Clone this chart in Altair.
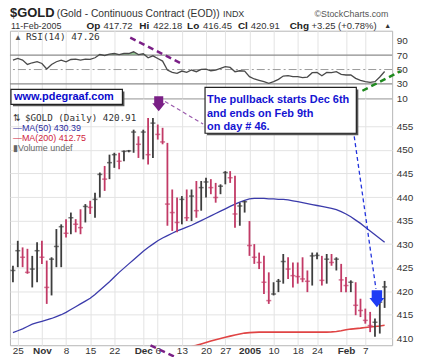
import altair as alt
import pandas as pd

# ---------------- data ----------------
HIGH = [425.4, 430.7, 429.3, 429.0, 427.5, 430.4, 430.7, 426.5, 427.2, 433.2,
        434.2, 435.3, 436.7, 435.3, 437.4, 438.5, 439.2, 440.9, 445.2, 446.6,
        449.0, 449.4, 449.4, 449.9, 450.0, 454.3, 452.9, 454.3, 456.8, 456.8,
        455.4, 454.7, 451.5, 441.6, 439.9, 440.2, 441.6, 441.6, 443.4, 443.4,
        444.1, 443.8, 443.0, 442.7, 445.5, 445.5, 444.5, 438.8, 439.2, 434.9,
        430.0, 428.2, 427.5, 424.0, 421.9, 422.6, 427.9, 427.2, 426.1, 426.1,
        427.2, 424.4, 428.2, 428.2, 427.5, 427.9, 427.9, 427.2, 425.8, 423.0,
        422.3, 421.9, 418.4, 416.3, 415.6, 414.2, 419.1, 422.18]
LOW = [421.9, 425.1, 425.1, 423.7, 420.8, 421.9, 425.8, 417.3, 419.1, 425.1,
       425.1, 431.4, 432.1, 432.5, 432.1, 434.6, 436.4, 435.6, 439.9, 441.3,
       443.8, 446.2, 445.9, 447.6, 449.5, 449.4, 448.3, 448.0, 446.9, 448.3,
       452.2, 451.2, 433.9, 432.8, 432.5, 434.2, 434.9, 434.9, 435.6, 437.1,
       439.9, 440.6, 438.8, 440.6, 442.7, 443.0, 433.5, 433.9, 436.7, 427.5,
       425.8, 424.7, 419.4, 417.3, 419.1, 419.8, 421.6, 422.6, 420.8, 421.6,
       421.9, 419.8, 421.2, 426.8, 421.2, 421.6, 425.4, 424.4, 419.8, 419.8,
       419.8, 414.9, 414.5, 413.1, 411.3, 410.3, 411.0, 416.45]
CLOSE = [424.4, 428.6, 427.2, 424.0, 424.7, 428.6, 427.2, 420.8, 426.8, 429.5,
         433.7, 432.3, 435.6, 434.2, 433.5, 438.0, 437.8, 439.5, 444.8, 443.8,
         447.3, 449.0, 447.6, 449.7, 449.8, 453.8, 451.2, 453.8, 449.0, 455.7,
         453.3, 451.7, 438.5, 436.7, 434.6, 439.5, 435.6, 440.2, 437.1, 442.0,
         443.2, 442.0, 439.9, 442.3, 445.2, 444.1, 436.4, 438.1, 439.0, 429.7,
         427.2, 426.1, 421.9, 418.0, 419.4, 422.1, 426.3, 424.7, 423.3, 423.1,
         422.6, 422.1, 427.5, 427.6, 422.3, 426.8, 426.1, 426.8, 422.4, 421.2,
         421.9, 417.0, 415.9, 413.8, 412.7, 413.4, 417.66, 420.91]
MA50 = [411.2, 411.6, 412.0, 412.5, 413.0, 413.3, 413.6, 413.9, 414.2, 414.6,
        415.0, 415.5, 416.1, 416.7, 417.3, 417.9, 418.5, 419.3, 420.2, 421.1,
        422.0, 423.0, 424.0, 424.9, 425.8, 426.7, 427.6, 428.5, 429.3, 430.0,
        430.7, 431.3, 431.8, 432.3, 432.8, 433.2, 433.6, 434.0, 434.5, 435.0,
        435.5, 436.0, 436.5, 437.0, 437.5, 438.0, 438.5, 438.9, 439.3, 439.6,
        439.7, 439.7, 439.7, 439.6, 439.6, 439.5, 439.5, 439.4, 439.2, 439.0,
        438.8, 438.6, 438.4, 438.2, 438.0, 437.8, 437.6, 437.3, 436.9, 436.4,
        435.8, 435.1, 434.4, 433.6, 432.8, 432.0, 431.2, 430.39]
MA200_START = 35
MA200 = [407.8, 408.0, 408.25, 408.5, 408.8, 409.1, 409.4, 409.7, 409.95, 410.2,
         410.45, 410.7, 410.9, 411.1, 411.2, 411.25, 411.3, 411.3, 411.3, 411.3,
         411.3, 411.3, 411.3, 411.3, 411.3, 411.3, 411.3, 411.3, 411.3, 411.3,
         411.3, 411.35, 411.45, 411.6, 411.8, 411.95, 412.05, 412.15, 412.3, 412.4,
         412.5, 412.6, 412.75]
RSI = [63.1, 65.3, 63.1, 57.0, 59.4, 60.8, 58.4, 50.7, 57.0, 60.8,
       63.1, 60.8, 63.9, 64.5, 63.1, 64.5, 64.0, 66.3, 70.8, 69.5,
       71.4, 72.2, 70.8, 72.2, 72.2, 74.6, 70.8, 71.8, 66.3, 69.0,
       65.3, 61.7, 49.3, 46.0, 44.6, 47.9, 46.0, 49.3, 47.0, 50.2,
       50.6, 48.3, 49.3, 51.5, 53.9, 52.9, 47.0, 48.3, 47.9, 40.1,
       36.9, 35.0, 33.2, 30.8, 33.2, 36.4, 41.0, 41.5, 40.1, 40.1,
       38.7, 39.6, 45.6, 46.0, 41.5, 46.0, 45.6, 47.0, 43.3, 42.4,
       42.4, 37.8, 35.0, 33.2, 32.3, 33.2, 39.6, 47.26]

TICK_IDX = [1, 6, 11, 16, 21, 27, 30, 35, 40, 44, 49, 54, 59, 63, 69, 73]
TICK_LABELS = ["25", "Nov", "8", "15", "22", "Dec", "6", "13", "20", "27",
               "2005", "10", "18", "24", "Feb", "7"]
MONTH_IDX = [6, 27, 49, 69]
PRICE_TICKS = [410, 415, 420, 425, 430, 435, 440, 445, 450, 455]
RSI_TICKS = [10, 30, 50, 70, 90]
RSI_LEVELS = [70, 30]

# annotation anchors in data coordinates (bar index, value)
PURPLE_RSI_X = [24.3, 35.3]
PURPLE_RSI_Y = [94.1, 56.9]
GREEN_RSI_X = [72.4, 80.3]
GREEN_RSI_Y = [20.6, 47.6]
PURPLE_THIN_X = [31.5, 39.4]
PURPLE_THIN_Y = [460.3, 455.5]
PURPLE_LOW_X = [28.5, 33.6]
PURPLE_LOW_Y = [408.5, 406.0]
BLUE_X = [70.7, 75.2]
BLUE_Y = [452.9, 420.5]
PURPLE_ARROW = (30.2, 459.8)
BLUE_ARROW = (75.4, 418.4)

X_DOMAIN = [-0.62, 78.56]
PRICE_DOMAIN = [408.52, 460.95]
RSI_DOMAIN = [10, 103.8]
W, H_RSI, H_MAIN = 384, 68, 248
LEFT, TOP, RIGHT, BOTTOM = 9, 29, 32, 12

SANS = "Liberation Sans"
MONO = "DejaVu Sans Mono"

# ---------------- tables ----------------
n = len(CLOSE)
idx = list(range(n))
direction = ["up" if k == 0 or CLOSE[k] >= CLOSE[k - 1] else "down" for k in idx]
bars = pd.DataFrame({"i": idx, "high": HIGH, "low": LOW, "close": CLOSE, "dir": direction})
ma50 = pd.DataFrame({"i": idx, "v": MA50})
ma200 = pd.DataFrame({"i": list(range(MA200_START, MA200_START + len(MA200))), "v": MA200})
rsi = pd.DataFrame({"i": idx, "rsi": RSI})

label_expr = "''"
for v, l in reversed(list(zip(TICK_IDX, TICK_LABELS))):
    label_expr = f"datum.value == {v} ? '{l}' : ({label_expr})"
month_test = "indexof([" + ",".join(str(m) for m in MONTH_IDX) + "], datum.value) >= 0"

xscale = alt.Scale(domain=X_DOMAIN, nice=False, zero=False)
pscale = alt.Scale(domain=PRICE_DOMAIN, nice=False, zero=False)
rscale = alt.Scale(domain=RSI_DOMAIN, nice=False, zero=False)

x_main_axis = alt.Axis(values=TICK_IDX, labelExpr=label_expr, grid=True, title=None,
                       labelFontWeight={"condition": {"test": month_test, "value": "bold"},
                                        "value": "normal"},
                       labelPadding=0, labelFontSize=10, labelFlush=False)
x_rsi_axis = alt.Axis(values=TICK_IDX, labels=False, grid=True, title=None)
y_main_axis = alt.Axis(orient="right", values=PRICE_TICKS, grid=True, title=None,
                       labelPadding=4)
y_rsi_axis = alt.Axis(orient="right", values=RSI_TICKS, grid=False, title=None,
                      labelPadding=4)


def xm(field="i"):
    return alt.X(f"{field}:Q", scale=xscale, axis=x_main_axis)


def ym(field):
    return alt.Y(f"{field}:Q", scale=pscale, axis=y_main_axis)


def xr(field="i"):
    return alt.X(f"{field}:Q", scale=xscale, axis=x_rsi_axis)


def yr(field):
    return alt.Y(f"{field}:Q", scale=rscale, axis=y_rsi_axis)


def txt(text, x, y, size=10, color="#333", weight="normal", font=SANS, align="left"):
    return alt.Chart(pd.DataFrame({"t": [text]})).mark_text(
        align=align, baseline="alphabetic", fontSize=size, color=color,
        fontWeight=weight, font=font
    ).encode(x=alt.value(x), y=alt.value(y), text="t:N")


def frame(y1, y2):
    # invisible rectangle fixing the page margins
    return alt.Chart(pd.DataFrame({"a": [0]})).mark_rect(opacity=0).encode(
        x=alt.value(-LEFT), x2=alt.value(W + RIGHT), y=alt.value(y1), y2=alt.value(y2))


def box(x1, x2, y1, y2):
    d = pd.DataFrame({"a": [0]})
    shadow = alt.Chart(d).mark_rect(color="#555").encode(
        x=alt.value(x1 + 2), x2=alt.value(x2 + 2), y=alt.value(y1 + 2), y2=alt.value(y2 + 2))
    face = alt.Chart(d).mark_rect(fill="white", stroke="#222", strokeWidth=1.2).encode(
        x=alt.value(x1), x2=alt.value(x2), y=alt.value(y1), y2=alt.value(y2))
    return shadow + face


def dline(xs, ys, color, width, dash, xenc, yenc):
    d = pd.DataFrame({"x": xs, "y": ys, "o": list(range(len(xs)))})
    return alt.Chart(d).mark_line(color=color, strokeWidth=width, strokeDash=dash).encode(
        x=xenc("x"), y=yenc("y"), order="o:Q")


ARROW = "M-0.7,-1.15L0.7,-1.15L0.7,-0.1L1,-0.1L0,1.15L-1,-0.1L-0.7,-0.1Z"


def arrow(pos, color, size):
    d = pd.DataFrame({"x": [pos[0]], "y": [pos[1]]})
    return alt.Chart(d).mark_point(shape=ARROW, filled=True, size=size, color=color,
                                   opacity=1).encode(x=xm("x"), y=ym("y"))


# ---------------- RSI panel ----------------
rsi_base = alt.Chart(rsi)
rsi_fill = rsi_base.transform_calculate(top="max(datum.rsi, 70)", base="70").mark_area(
    color="#7fbf7f", opacity=0.85).encode(x=xr(), y=yr("top"), y2="base:Q")
rsi_line = rsi_base.mark_line(color="#4a4a4a", strokeWidth=1.3).encode(x=xr(), y=yr("rsi"))
levels = alt.Chart(pd.DataFrame({"v": RSI_LEVELS})).mark_rule(
    color="#8c8c8c", strokeWidth=1.3).encode(y=yr("v"))
mid = alt.Chart(pd.DataFrame({"v": [50]})).mark_rule(
    color="#9a9a9a", strokeWidth=1, strokeDash=[8, 3, 2, 3]).encode(y=yr("v"))
p_rsi = dline(PURPLE_RSI_X, PURPLE_RSI_Y, "#7a1f86", 2.5, [6, 4], xr, yr)
g_rsi = dline(GREEN_RSI_X, GREEN_RSI_Y, "#1f8a1f", 2.5, [6, 4], xr, yr)

header = [
    txt("$GOLD", 0, -13.5, 13, "#222", "bold"),
    txt("(Gold - Continuous Contract (EOD))", 47, -13.5, 10.3, "#333"),
    txt("INDX", 214, -13.5, 9, "#333"),
    txt("\u00a9StockCharts.com", 306, -13.5, 8.9, "#555"),
    txt("11-Feb-2005", 1, -2, 9, "#333"),
    txt("Op", 77, -2, 10, "#222", "bold"),
    txt("417.72", 94, -2, 9.5, "#333"),
    txt("Hi", 130, -2, 10, "#222", "bold"),
    txt("422.18", 144, -2, 9.5, "#333"),
    txt("Lo", 178, -2, 10, "#222", "bold"),
    txt("416.45", 194, -2, 9.5, "#333"),
    txt("Cl", 229, -2, 10, "#222", "bold"),
    txt("420.91", 242, -2, 9.5, "#333"),
    txt("Chg", 281, -2, 10, "#222", "bold"),
    txt("+3.25 (+0.78%)", 303, -2, 9.5, "#333"),
    txt("\u25b2", 376, -3, 7, "#333"),
    txt("\u25b2", 4, 9, 8, "#555"),
    txt("RSI(14) 47.26", 16, 9, 9.5, "#333", "normal", MONO),
]

rsi_chart = alt.layer(frame(-TOP, 0), rsi_fill, levels, mid, rsi_line, p_rsi, g_rsi,
                      *header).properties(width=W, height=H_RSI)

# ---------------- price panel ----------------
base = alt.Chart(bars)
hl = base.mark_rule(strokeWidth=1.8).encode(
    x=xm(), y=ym("low"), y2="high:Q",
    color=alt.Color("dir:N", scale=alt.Scale(domain=["up", "down"],
                                             range=["#3d3d3d", "#c23a66"]), legend=None))
cl = base.mark_tick(orient="horizontal", size=5, thickness=1.5).encode(
    x=xm(), y=ym("close"),
    color=alt.Color("dir:N", scale=alt.Scale(domain=["up", "down"],
                                             range=["#111111", "#ea1a3e"]), legend=None))
ma50_line = alt.Chart(ma50).mark_line(color="#3b3bab", strokeWidth=1.3).encode(
    x=xm(), y=ym("v"))
ma200_line = alt.Chart(ma200).mark_line(color="#e04444", strokeWidth=1.6, clip=True).encode(
    x=xm(), y=ym("v"))

p_thin = dline(PURPLE_THIN_X, PURPLE_THIN_Y, "#9a5aac", 1.2, [4, 3], xm, ym)
p_low = dline(PURPLE_LOW_X, PURPLE_LOW_Y, "#7a1f86", 2.5, [6, 4], xm, ym)
b_line = dline(BLUE_X, BLUE_Y, "#2233dd", 1.3, [4, 3], xm, ym)

legend = [
    txt("\u21c5", 3, 23, 9, "#333"),
    txt("$GOLD (Daily) 420.91", 15, 23, 9.3, "#333", "normal", MONO),
    txt("\u2014MA(50) 430.39", 3, 33, 9, "#2c2ca0"),
    txt("\u2014MA(200) 412.75", 3, 43, 9, "#d0243c"),
    txt("\u25aeVolume undef", 3, 53, 9, "#666"),
]
notes = [
    box(1, 113, -9, 6),
    txt("www.pdegraaf.com", 4, 1.5, 11, "#0a0acc", "bold"),
    box(196, 348, -11, 35),
    txt("The pullback starts Dec 6th", 198, 5, 11, "#1414d2", "bold"),
    txt("and ends on Feb 9th", 198, 18.5, 11, "#1414d2", "bold"),
    txt("on day # 46.", 198, 32, 11, "#1414d2", "bold"),
]

main_chart = alt.layer(
    frame(H_MAIN, H_MAIN + BOTTOM), ma200_line, ma50_line, hl, cl, *legend,
    p_thin, p_low, b_line, *notes,
    arrow(PURPLE_ARROW, "#7a1f86", 169), arrow(BLUE_ARROW, "#1e3cf5", 225)
).properties(width=W, height=H_MAIN)

chart = alt.vconcat(rsi_chart, main_chart, spacing=0, bounds="flush").properties(
    padding=0, background="white",
).configure_view(stroke="#b5b5b5", strokeWidth=1).configure_axis(
    labelFont=SANS, labelColor="#333", labelFontSize=10, gridColor="#e3e3e3",
    gridWidth=1, domain=False, ticks=False
)

chart.save("out.html", embed_options={"renderer": "svg", "actions": False})
